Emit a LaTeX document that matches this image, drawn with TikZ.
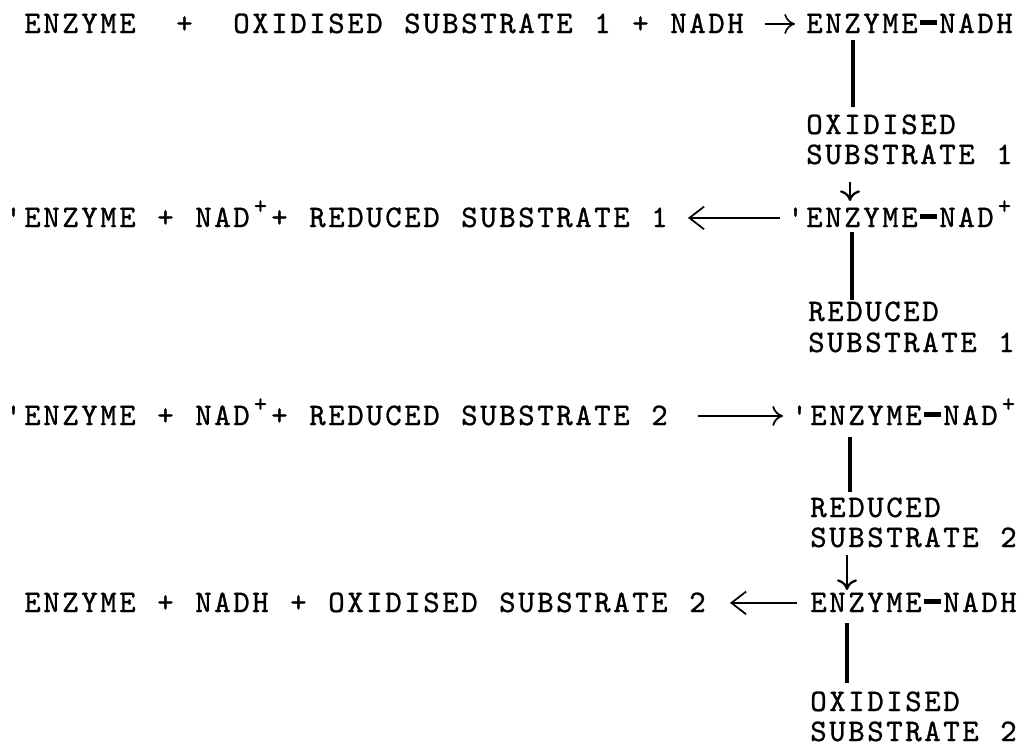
\documentclass[tikz,border=0pt]{standalone}
\usepackage{fontspec}
\setmonofont{lmmono10-regular.otf}[FakeBold=0.9]
\usetikzlibrary{arrows.meta}

% typewriter set on a fixed pitch: every character gets a cell of equal width
% _ = blank cell, ^ = raised plus, = = bond dash
\ExplSyntaxOn
\dim_new:N \l_tw_pitch_dim
\dim_set:Nn \l_tw_pitch_dim {14.25pt}
\cs_new_protected:Npn \tw_cell:n #1
  { \hbox_to_wd:nn { \l_tw_pitch_dim } { \hss #1 \hss } }
\NewDocumentCommand \typed { m }
  {
    \str_map_inline:nn {#1}
      {
        \str_case:nnF {##1}
          {
            { _ } { \tw_cell:n { } }
            { ^ } { \tw_cell:n { \raisebox{0.42em}{\fontsize{19pt}{19pt}\selectfont +} } }
            { = } { \tw_cell:n { \rule[0.26em]{0.9\l_tw_pitch_dim}{0.14em} } }
          }
          { \tw_cell:n {##1} }
      }
  }
\ExplSyntaxOff

\newdimen\pxl
\pxl=0.75pt

\begin{document}
\begin{tikzpicture}[x=0.75pt, y={(0pt,-0.75pt)},
  txt/.style={anchor=base west, inner sep=0pt, outer sep=0pt,
              font=\ttfamily\fontsize{23.5pt}{28pt}\selectfont},
  bar/.style={line width=3.3pt},
  drop/.style={line width=1.7pt, -{Computer Modern Rightarrow[length=8pt,width=15pt]}},
  fwd/.style={line width=1.3pt, -{Computer Modern Rightarrow[length=8pt,width=15pt]}},
  back/.style={line width=1.3pt, -{Straight Barb[length=11pt,width=17pt,line width=1.3pt]}}]

\fill[white] (0,0) rectangle (1026,746);
\useasboundingbox (0,0) rectangle (1026,746);

% reaction lines
\node[txt] (l1) at (23,33)  {\typed{ENZYME_ +_ OXIDISED SUBSTRATE 1 + NADH}};
\node[txt] (r1) at (805,33) {\typed{ENZYME=NADH}};
\node[txt] (l2) at (4,227)  {\typed{'ENZYME + NAD^+ REDUCED SUBSTRATE 1}};
\node[txt] (r2) at (786,227){\typed{'ENZYME=NAD^}};
\node[txt] (l3) at (4,425)  {\typed{'ENZYME + NAD^+ REDUCED SUBSTRATE 2}};
\node[txt] (r3) at (790,425){\typed{'ENZYME=NAD^}};
\node[txt] (l4) at (23,612) {\typed{ENZYME + NADH + OXIDISED SUBSTRATE 2}};
\node[txt] (r4) at (809,612){\typed{ENZYME=NADH}};

% substrates entering or leaving the complex
\node[txt] (s1a) at (805,134) {\typed{OXIDISED}};
\node[txt] (s1b) at (805,164) {\typed{SUBSTRATE 1}};
\node[txt] (s2a) at (807,321) {\typed{REDUCED}};
\node[txt] (s2b) at (807,352) {\typed{SUBSTRATE 1}};
\node[txt] (s3a) at (809,517) {\typed{REDUCED}};
\node[txt] (s3b) at (809,547) {\typed{SUBSTRATE 2}};
\node[txt] (s4a) at (809,711) {\typed{OXIDISED}};
\node[txt] (s4b) at (809,741) {\typed{SUBSTRATE 2}};

% columns of the vertical strokes
\coordinate (b1) at (853,0);
\coordinate (a1) at (850,0);
\coordinate (b2) at (852,0);
\coordinate (b3) at (850,0);
\coordinate (a2) at (847,0);
\coordinate (b4) at (847,0);

\draw[bar, shorten <=7\pxl, shorten >=27\pxl] (r1.base -| b1) -- (s1a.base -| b1);
\draw[drop, shorten <=18\pxl, shorten >=26\pxl] (s1b.base -| a1) -- (r2.base -| a1);
\draw[bar, shorten <=5\pxl, shorten >=21\pxl] (r2.base -| b2) -- (s2a.base -| b2);
\draw[bar, shorten <=12\pxl, shorten >=25\pxl] (r3.base -| b3) -- (s3a.base -| b3);
\draw[drop, shorten <=8\pxl, shorten >=22\pxl] (s3b.base -| a2) -- (r4.base -| a2);
\draw[bar, shorten <=11\pxl, shorten >=28\pxl] (r4.base -| b4) -- (s4a.base -| b4);

% horizontal reaction arrows
\draw[fwd, line width=1.2pt, shorten <=20\pxl, shorten >=10\pxl]
  ([yshift=6.8pt]l1.base east) -- ([yshift=6.8pt]r1.base west);
\draw[back, shorten <=6\pxl, shorten >=19\pxl]
  ([yshift=6.8pt]r2.base west) -- ([yshift=6.8pt]l2.base east);
\draw[fwd, shorten <=29\pxl, shorten >=7\pxl]
  ([yshift=6.8pt]l3.base east) -- ([yshift=6.8pt]r3.base west);
\draw[back, shorten <=12\pxl, shorten >=23\pxl]
  ([yshift=6.8pt]r4.base west) -- ([yshift=6.8pt]l4.base east);
\end{tikzpicture}
\end{document}
